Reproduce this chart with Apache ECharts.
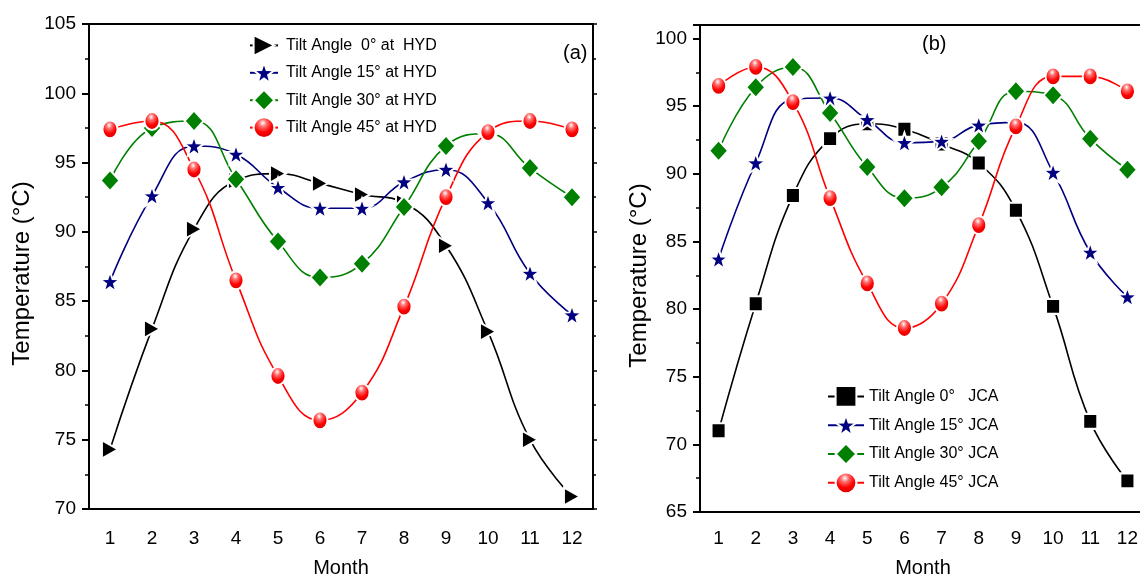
<!DOCTYPE html>
<html>
<head>
<meta charset="utf-8">
<script src="https://cdn.jsdelivr.net/npm/echarts@6/dist/echarts.min.js"></script>
<style>html,body{margin:0;padding:0;background:#fff;}#c{width:1140px;height:578px;}</style>
</head>
<body>
<div id="c"></div>
<script>
var months = ['1','2','3','4','5','6','7','8','9','10','11','12'];

var hydNames = ['Tilt Angle  0° at  HYD', 'Tilt Angle 15° at HYD', 'Tilt Angle 30° at HYD', 'Tilt Angle 45° at HYD'];
var hyd0  = [74.3, 83.0, 90.2, 93.7, 94.2, 93.5, 92.7, 92.1, 89.0, 82.8, 75.0, 70.9];
var hyd15 = [86.4, 92.6, 96.2, 95.6, 93.2, 91.7, 91.7, 93.6, 94.5, 92.1, 87.0, 84.0];
var hyd30 = [93.7, 97.5, 98.0, 93.8, 89.3, 86.7, 87.7, 91.8, 96.2, 97.1, 94.6, 92.5];
var hyd45 = [97.4, 98.0, 94.5, 86.5, 79.6, 76.4, 78.4, 84.6, 92.5, 97.2, 98.0, 97.4];

var jcaNames = ['Tilt Angle 0°   JCA', 'Tilt Angle 15° JCA', 'Tilt Angle 30° JCA', 'Tilt Angle 45° JCA'];
var jca0  = [71.0, 80.4, 88.4, 92.6, 93.7, 93.3, 92.2, 90.8, 87.3, 80.2, 71.7, 67.3];
var jca15 = [83.7, 90.8, 95.5, 95.6, 94.0, 92.3, 92.4, 93.6, 93.8, 90.1, 84.2, 80.9];
var jca30 = [91.7, 96.4, 97.9, 94.5, 90.5, 88.2, 89.0, 92.4, 96.1, 95.8, 92.6, 90.3];
var jca45 = [96.5, 97.9, 95.3, 88.2, 81.9, 78.6, 80.4, 86.2, 93.5, 97.2, 97.2, 96.1];

var yTicksA = {min: 70, max: 105, interval: 5};
var yTicksB = {min: 65, max: 101, interval: 5};

var NARROW = "'Liberation Sans Narrow', 'Arial Narrow', 'Liberation Sans', sans-serif";
var REG = "'Liberation Sans', Arial, sans-serif";
var STAR = 'path://M50,2 L62,36 L98,37 L69,58 L80,94 L50,73 L20,94 L31,58 L2,37 L38,36 Z';
var sphere = {type: 'radial', x: 0.45, y: 0.3, r: 0.75, colorStops: [
  {offset: 0, color: '#ffffff'}, {offset: 0.22, color: '#ff7070'},
  {offset: 0.55, color: '#ff0000'}, {offset: 1, color: '#c80000'}]};

var styles = [
  {color: '#000000', fill: '#000000', symbol: 'triangle', rot: -90, size: [18, 16]},
  {color: '#000080', fill: '#000080', symbol: STAR, rot: 0, size: 20},
  {color: '#008000', fill: '#008000', symbol: 'diamond', rot: 0, size: [19, 21]},
  {color: '#ff0000', fill: sphere, symbol: 'circle', rot: 0, size: [15, 18]}
];

function mkSeries(name, data, st, xi, yi, symOverride, sizeOverride) {
  return {
    name: name, type: 'line', data: data, xAxisIndex: xi, yAxisIndex: yi,
    smooth: 0.45, symbol: symOverride || st.symbol, symbolRotate: st.rot,
    symbolSize: sizeOverride || st.size, showAllSymbol: true,
    lineStyle: {color: st.color, width: 1.6},
    itemStyle: {color: st.fill, borderColor: '#ffffff', borderWidth: 2},
    emphasis: {disabled: true}, animation: false, z: 3
  };
}

function xAxes(gi, margin, nameGap) {
  return [
    {type: 'category', gridIndex: gi, data: months, boundaryGap: true, position: 'bottom',
     axisLine: {lineStyle: {color: '#000', width: 2}},
     axisTick: {alignWithLabel: true, length: 7, lineStyle: {color: '#000', width: 2}},
     axisLabel: {color: '#000', fontFamily: NARROW, fontSize: 19, margin: margin},
     name: 'Month', nameLocation: 'middle', nameGap: nameGap,
     nameTextStyle: {color: '#000', fontFamily: NARROW, fontSize: 20},
     splitLine: {show: false}},
    {type: 'category', gridIndex: gi, data: months, boundaryGap: true, position: 'bottom',
     axisLine: {show: false},
     axisTick: {alignWithLabel: false, length: 3, lineStyle: {color: '#000', width: 1.5}},
     axisLabel: {show: false}, splitLine: {show: false}},
    {type: 'category', gridIndex: gi, data: months, boundaryGap: true, position: 'top',
     axisLine: {lineStyle: {color: '#000', width: 2}},
     axisTick: {inside: true, length: 3, lineStyle: {color: '#000', width: 1.5}},
     axisLabel: {show: false}, splitLine: {show: false}}
  ];
}

function yAxes(gi, t, gap) {
  return [
    {type: 'value', gridIndex: gi, min: t.min, max: t.max, interval: t.interval, position: 'left',
     axisLine: {show: true, lineStyle: {color: '#000', width: 2}},
     axisTick: {show: true, length: 7, lineStyle: {color: '#000', width: 2}},
     minorTick: {show: true, splitNumber: 2, length: 4, lineStyle: {color: '#000', width: 1.5}},
     axisLabel: {color: '#000', fontFamily: NARROW, fontSize: 19, margin: 13, showMaxLabel: t.max % t.interval === 0,
       formatter: function (v) { return v % 5 === 0 ? String(v) : ''; }},
     splitLine: {show: false},
     name: 'Temperature (°C)', nameLocation: 'middle', nameGap: gap, nameRotate: 90,
     nameTextStyle: {color: '#000', fontFamily: REG, fontSize: 24, padding: [0, 14, 0, 0]}},
    {type: 'value', gridIndex: gi, min: t.min, max: t.max, interval: t.interval, position: 'right',
     axisLine: {show: true, lineStyle: {color: '#000', width: 2}},
     axisTick: {show: true, length: 4, lineStyle: {color: '#000', width: 1.5}},
     minorTick: {show: true, splitNumber: 2, length: 3, lineStyle: {color: '#000', width: 1.5}},
     axisLabel: {show: false}, splitLine: {show: false}}
  ];
}

var series = [
  mkSeries(hydNames[0], hyd0, styles[0], 0, 0),
  mkSeries(hydNames[1], hyd15, styles[1], 0, 0),
  mkSeries(hydNames[2], hyd30, styles[2], 0, 0),
  mkSeries(hydNames[3], hyd45, styles[3], 0, 0),
  mkSeries(jcaNames[0], jca0, styles[0], 3, 2, 'rect', [14, 15]),
  mkSeries(jcaNames[1], jca15, styles[1], 3, 2),
  mkSeries(jcaNames[2], jca30, styles[2], 3, 2),
  mkSeries(jcaNames[3], jca45, styles[3], 3, 2)
];
series[4].symbolRotate = 0;

var option = {
  backgroundColor: '#ffffff',
  animation: false,
  grid: [
    {left: 89, top: 24, width: 504, height: 485, outerBoundsMode: 'none', containLabel: false},
    {left: 700, top: 25, width: 446, height: 487, outerBoundsMode: 'none', containLabel: false}
  ],
  xAxis: xAxes(0, 20, 49).concat(xAxes(1, 17, 46)),
  yAxis: yAxes(0, yTicksA, 55).concat(yAxes(1, yTicksB, 37)),
  title: [
    {text: '(a)', left: 558, top: 38, textStyle: {color: '#000', fontFamily: NARROW, fontSize: 20, fontWeight: 'normal'}},
    {text: '(b)', left: 917, top: 29, textStyle: {color: '#000', fontFamily: NARROW, fontSize: 20, fontWeight: 'normal'}}
  ],
  legend: [
    {data: hydNames, orient: 'vertical', left: 244, top: 29, itemWidth: 28, itemHeight: 26, itemGap: 4.6,
     textStyle: {color: '#000', fontFamily: NARROW, fontSize: 16, padding: [0, 0, 0, 3]}, selectedMode: false},
    {data: jcaNames, orient: 'vertical', left: 822, top: 380, itemWidth: 36, itemHeight: 26, itemGap: 6,
     textStyle: {color: '#000', fontFamily: NARROW, fontSize: 16}, selectedMode: false}
  ],
  series: series
};

var chart = echarts.init(document.getElementById('c'), null, {renderer: 'canvas'});
chart.setOption(option);
</script>
</body>
</html>
